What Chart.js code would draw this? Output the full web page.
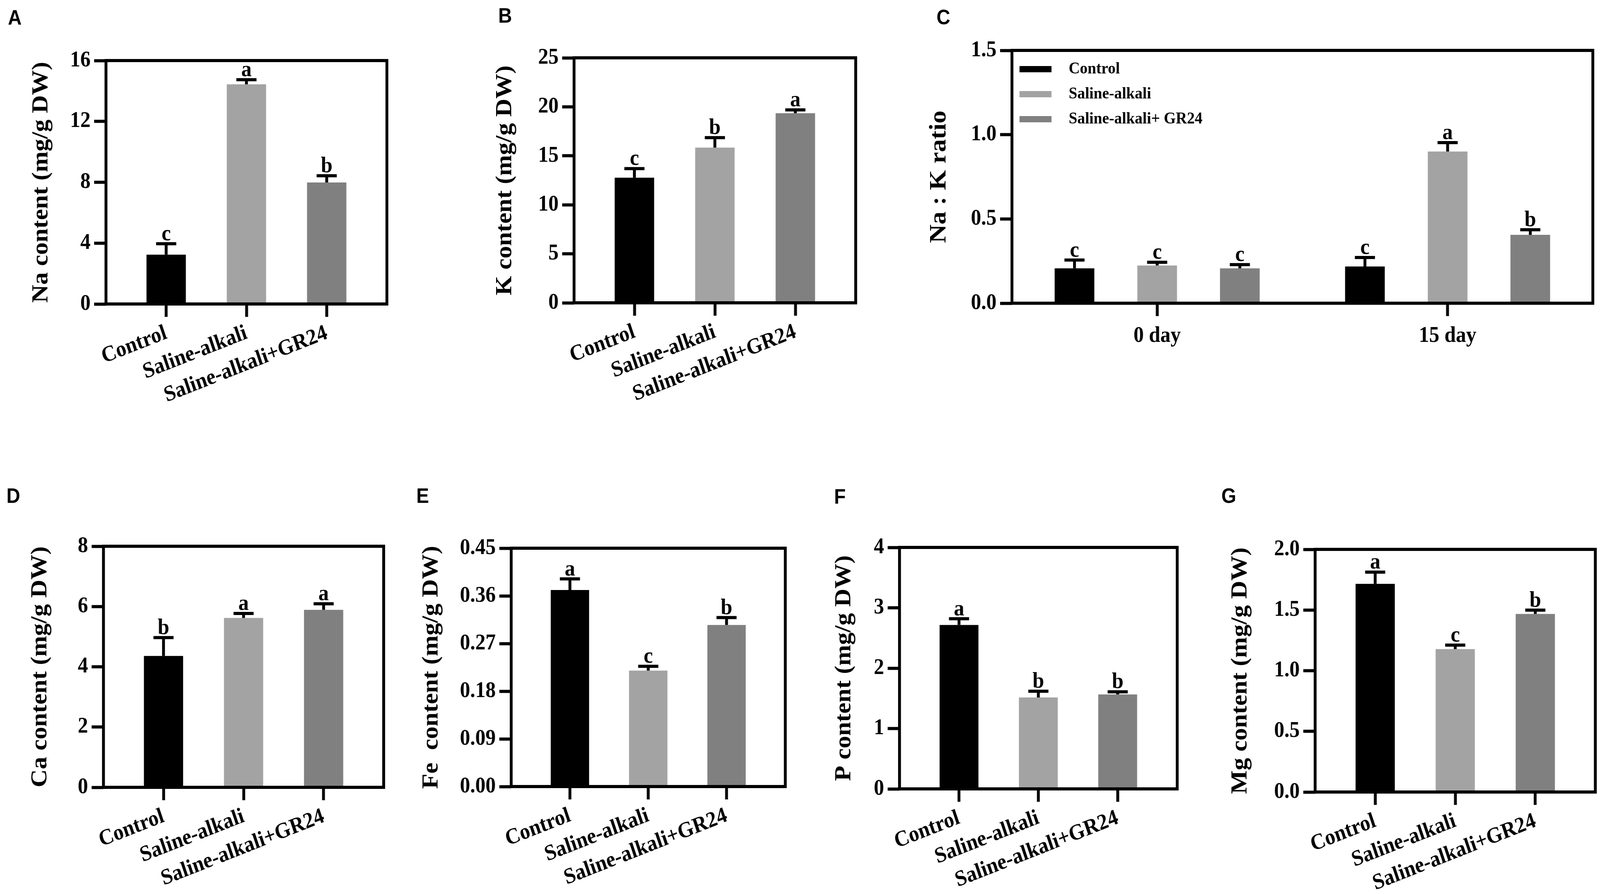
<!DOCTYPE html>
<html>
<head>
<meta charset="utf-8">
<script src="https://cdn.jsdelivr.net/npm/chart.js@4.4.0/dist/chart.umd.min.js"></script>
<style>
html, body { margin: 0; padding: 0; background: #fff; overflow: hidden; }
#page { position: absolute; left: 0; top: 0; width: 4454px; height: 2288px; transform-origin: 0 0; background: #fff; }
#page canvas { position: absolute; }
.tag { position: absolute; font: bold 53px "Liberation Sans", Arial, sans-serif; line-height: 1; color: #000; }
</style>
</head>
<body>
<div id="page">
<div class="tag" style="left:22px;top:18px">A</div>
<div class="tag" style="left:1387px;top:13px">B</div>
<div class="tag" style="left:2607px;top:17px">C</div>
<div class="tag" style="left:18px;top:1242px">D</div>
<div class="tag" style="left:1159px;top:1242px">E</div>
<div class="tag" style="left:2322px;top:1244px">F</div>
<div class="tag" style="left:3400px;top:1242px">G</div>
</div>

<script>
// 处理组
const treatments = ['Control', 'Saline-alkali', 'Saline-alkali+GR24'];
const barColors = ['#000000', '#a3a3a3', '#808080'];

// A: Na 含量
const naMean = [3.24, 14.44, 7.99];
const naErr = [0.72, 0.30, 0.44];
const naSig = ['c', 'a', 'b'];
const naTicks = [0, 4, 8, 12, 16];

// B: K 含量
const kMean = [12.77, 15.84, 19.35];
const kErr = [0.93, 1.02, 0.34];
const kSig = ['c', 'b', 'a'];
const kTicks = [0, 5, 10, 15, 20, 25];

// C: Na:K 比值
const days = ['0 day', '15 day'];
const ratioSeries = ['Control', 'Saline-alkali', 'Saline-alkali+ GR24'];
const ratioControl = [0.207, 0.218];
const ratioControlErr = [0.049, 0.053];
const ratioControlSig = ['c', 'c'];
const ratioSaline = [0.224, 0.900];
const ratioSalineErr = [0.019, 0.053];
const ratioSalineSig = ['c', 'a'];
const ratioGR24 = [0.207, 0.406];
const ratioGR24Err = [0.022, 0.030];
const ratioGR24Sig = ['c', 'b'];
const ratioTicks = [0, 0.5, 1.0, 1.5];

// D: Ca 含量
const caMean = [4.36, 5.62, 5.89];
const caErr = [0.61, 0.15, 0.20];
const caSig = ['b', 'a', 'a'];
const caTicks = [0, 2, 4, 6, 8];

// E: Fe 含量
const feMean = [0.371, 0.219, 0.305];
const feErr = [0.021, 0.008, 0.014];
const feSig = ['a', 'c', 'b'];
const feTicks = [0, 0.09, 0.18, 0.27, 0.36, 0.45];

// F: P 含量
const pMean = [2.715, 1.515, 1.564];
const pErr = [0.103, 0.103, 0.045];
const pSig = ['a', 'b', 'b'];
const pTicks = [0, 1, 2, 3, 4];

// G: Mg 含量
const mgMean = [1.716, 1.178, 1.468];
const mgErr = [0.096, 0.033, 0.031];
const mgSig = ['a', 'c', 'b'];
const mgTicks = [0, 0.5, 1.0, 1.5, 2.0];

// 版面参数
const FONT = '"Liberation Serif", "Times New Roman", serif';
const PAGE_W = 4454;
const PAGE_H = 2288;
const PAD_TOP = 45;
const PAD_RIGHT = 20;
const LINE = 8;

// 整页铺满窗口
const page = document.getElementById('page');
const fitX = window.innerWidth / PAGE_W;
const fitY = window.innerHeight / PAGE_H;
page.style.transform = `scale(${fitX}, ${fitY})`;

// 边框、误差线和显著性字母
const framePlugin = {
    id: 'framePlugin',
    afterDatasetsDraw(chart) {
        const { ctx, chartArea: ca, scales } = chart;
        ctx.save();
        ctx.strokeStyle = '#000';
        ctx.lineWidth = LINE;
        ctx.lineCap = 'butt';
        ctx.strokeRect(ca.left, ca.top, ca.right - ca.left, ca.bottom - ca.top);

        ctx.font = `bold 58px ${FONT}`;
        ctx.textAlign = 'center';
        ctx.textBaseline = 'alphabetic';
        ctx.fillStyle = '#000';
        chart.data.datasets.forEach((ds, di) => {
            const meta = chart.getDatasetMeta(di);
            meta.data.forEach((bar, i) => {
                const value = meta.controller.getParsed(i).y;
                const top = scales.y.getPixelForValue(value + ds.errors[i]);
                ctx.beginPath();
                ctx.moveTo(bar.x, bar.y);
                ctx.lineTo(bar.x, top);
                ctx.moveTo(bar.x - 28, top);
                ctx.lineTo(bar.x + 28, top);
                ctx.stroke();
                ctx.fillText(ds.letters[i], bar.x, top - 9);
            });
        });
        ctx.restore();
    }
};

// C 图的图例（绘图区左上角）
const cornerLegend = {
    id: 'cornerLegend',
    afterDraw(chart) {
        const { ctx, chartArea: ca } = chart;
        ctx.save();
        ctx.font = `bold 43px ${FONT}`;
        ctx.textAlign = 'left';
        ctx.textBaseline = 'middle';
        chart.data.datasets.forEach((ds, i) => {
            const cy = ca.top + 48 + i * 64;
            ctx.fillStyle = ds.backgroundColor;
            ctx.fillRect(ca.left + 21, cy - 8, 89, 16);
            ctx.fillStyle = '#000';
            ctx.fillText(ds.label, ca.left + 158, cy);
        });
        ctx.restore();
    }
};

// 创建画布
function placeCanvas(box, titleSize, axisHeight) {
    const wy = Math.round(box.L - box.TX + titleSize * 0.6);
    const canvas = document.createElement('canvas');
    canvas.width = wy + (box.R - box.L) + PAD_RIGHT;
    canvas.height = PAD_TOP + (box.B - box.T) + axisHeight;
    canvas.style.left = (box.L - wy) + 'px';
    canvas.style.top = (box.T - PAD_TOP) + 'px';
    page.appendChild(canvas);
    return { ctx: canvas.getContext('2d'), wy };
}

// 纵轴
function yAxis(title, ticks, decimals, wy, titleSize) {
    return {
        min: ticks[0],
        max: ticks[ticks.length - 1],
        afterBuildTicks: s => { s.ticks = ticks.map(v => ({ value: v })); },
        afterFit: s => { s.width = wy; },
        border: { display: false },
        grid: { drawOnChartArea: false, drawTicks: true, tickLength: 33, tickWidth: LINE, tickColor: '#000' },
        ticks: {
            padding: 10,
            color: '#000',
            font: { family: FONT, size: 57, weight: 'bold' },
            callback: v => Number(v).toFixed(decimals)
        },
        title: {
            display: true,
            text: title,
            color: '#000',
            padding: 0,
            font: { family: FONT, size: titleSize, weight: 'bold' }
        }
    };
}

// 三个处理的柱状图
function makeTreatmentChart(box, title, means, errors, letters, ticks, decimals) {
    const titleSize = 64;
    const axisHeight = 290;
    const { ctx, wy } = placeCanvas(box, titleSize, axisHeight);
    return new Chart(ctx, {
        type: 'bar',
        data: {
            datasets: [{
                data: means.map((v, i) => ({ x: i, y: v })),
                errors: errors,
                letters: letters,
                backgroundColor: barColors,
                borderWidth: 0,
                categoryPercentage: 1,
                barPercentage: 0.49
            }]
        },
        options: {
            responsive: false,
            animation: false,
            layout: { padding: { top: PAD_TOP, right: PAD_RIGHT, left: 0, bottom: 0 } },
            plugins: { legend: { display: false }, tooltip: { enabled: false } },
            scales: {
                x: {
                    type: 'linear',
                    min: -0.75,
                    max: 2.75,
                    offset: false,
                    afterBuildTicks: s => { s.ticks = treatments.map((_, i) => ({ value: i })); },
                    afterFit: s => { s.height = axisHeight; },
                    border: { display: false },
                    grid: { offset: false, drawOnChartArea: false, drawTicks: true, tickLength: 33, tickWidth: LINE, tickColor: '#000' },
                    ticks: {
                        autoSkip: false,
                        minRotation: 20,
                        maxRotation: 20,
                        padding: 8,
                        color: '#000',
                        font: { family: FONT, size: 57, weight: 'bold' },
                        callback: v => treatments[v]
                    }
                },
                y: yAxis(title, ticks, decimals, wy, titleSize)
            }
        },
        plugins: [framePlugin]
    });
}

// C: 分组柱状图
function makeRatioChart(box) {
    const titleSize = 66;
    const axisHeight = 150;
    const { ctx, wy } = placeCanvas(box, titleSize, axisHeight);
    const seriesValues = [ratioControl, ratioSaline, ratioGR24];
    const seriesErrors = [ratioControlErr, ratioSalineErr, ratioGR24Err];
    const seriesLetters = [ratioControlSig, ratioSalineSig, ratioGR24Sig];
    return new Chart(ctx, {
        type: 'bar',
        data: {
            labels: days,
            datasets: ratioSeries.map((name, i) => ({
                label: name,
                data: seriesValues[i],
                errors: seriesErrors[i],
                letters: seriesLetters[i],
                backgroundColor: barColors[i],
                borderWidth: 0,
                categoryPercentage: 0.854,
                barPercentage: 0.48
            }))
        },
        options: {
            responsive: false,
            animation: false,
            layout: { padding: { top: PAD_TOP, right: PAD_RIGHT, left: 0, bottom: 0 } },
            plugins: { legend: { display: false }, tooltip: { enabled: false } },
            scales: {
                x: {
                    type: 'category',
                    offset: true,
                    afterFit: s => { s.height = axisHeight; },
                    border: { display: false },
                    grid: { offset: false, drawOnChartArea: false, drawTicks: true, tickLength: 33, tickWidth: LINE, tickColor: '#000' },
                    ticks: {
                        maxRotation: 0,
                        padding: 17,
                        color: '#000',
                        font: { family: FONT, size: 57, weight: 'bold' }
                    }
                },
                y: yAxis('Na : K ratio', ratioTicks, 1, wy, titleSize)
            }
        },
        plugins: [framePlugin, cornerLegend]
    });
}

makeTreatmentChart({ L: 295, R: 1077, T: 155, B: 778, TX: 115 }, 'Na content (mg/g DW)', naMean, naErr, naSig, naTicks, 0);
makeTreatmentChart({ L: 1598, R: 2382, T: 148, B: 775, TX: 1406 }, 'K content (mg/g DW)', kMean, kErr, kSig, kTicks, 0);
makeRatioChart({ L: 2817, R: 4434, T: 129, B: 776, TX: 2615 });
makeTreatmentChart({ L: 288, R: 1068, T: 1398, B: 2015, TX: 112 }, 'Ca content (mg/g DW)', caMean, caErr, caSig, caTicks, 0);
makeTreatmentChart({ L: 1423, R: 2186, T: 1403, B: 2013, TX: 1201 }, 'Fe  content (mg/g DW)', feMean, feErr, feSig, feTicks, 2);
makeTreatmentChart({ L: 2504, R: 3277, T: 1401, B: 2019, TX: 2350 }, 'P content (mg/g DW)', pMean, pErr, pSig, pTicks, 0);
makeTreatmentChart({ L: 3661, R: 4441, T: 1406, B: 2027, TX: 3453 }, 'Mg content (mg/g DW)', mgMean, mgErr, mgSig, mgTicks, 1);
</script>
</body>
</html>
